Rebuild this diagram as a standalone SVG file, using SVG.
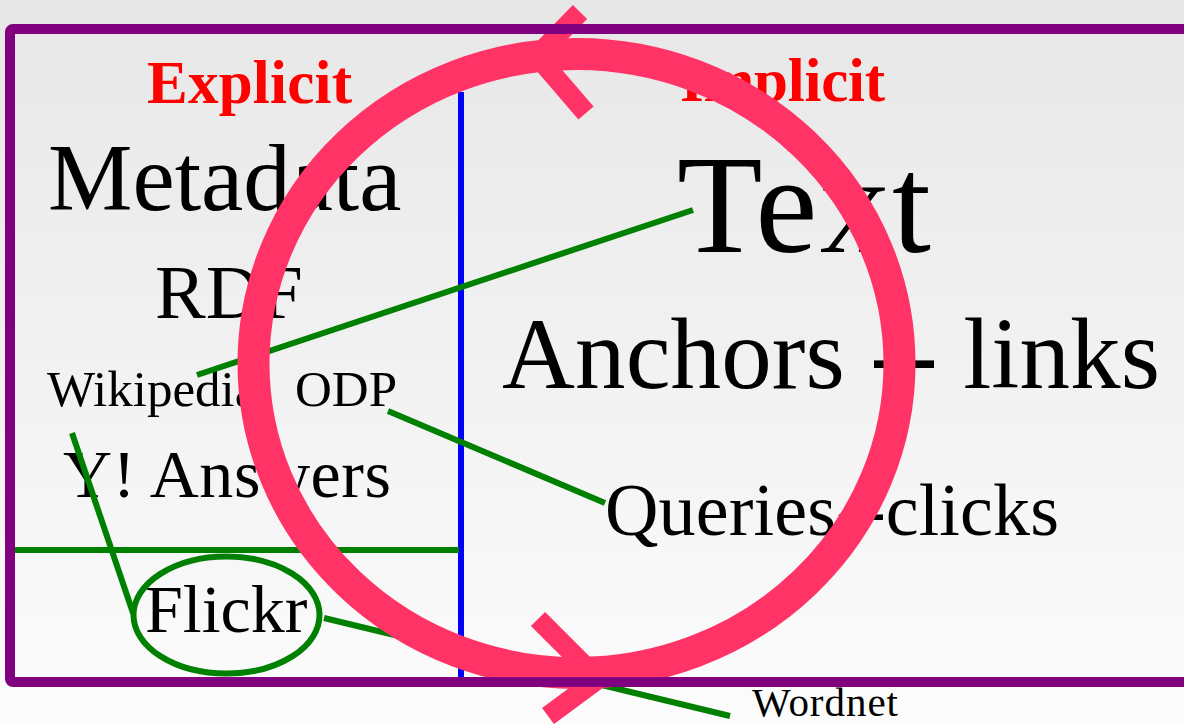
<svg xmlns="http://www.w3.org/2000/svg" width="1184" height="724" viewBox="0 0 1184 724">
  <defs>
    <linearGradient id="bg" x1="0" y1="0" x2="0" y2="1">
      <stop offset="0" stop-color="#e7e7e7"/>
      <stop offset="1" stop-color="#fcfcfc"/>
    </linearGradient>
  </defs>
  <style>
    text { font-family: "Liberation Serif", "Times New Roman", serif; fill: #000; }
    .head { font-weight: bold; fill: #ff0000; font-size: 61px; }
    .green { stroke: #008000; stroke-width: 6; fill: none; }
    .pink { stroke: #ff3366; fill: none; }
  </style>
  <rect x="0" y="0" width="1184" height="724" fill="url(#bg)"/>

  <g id="divider-vertical">
    <line x1="461" y1="92" x2="461" y2="680" stroke="#0000ff" stroke-width="6"/>
  </g>
  <g id="divider-horizontal">
    <line x1="15" y1="550" x2="459" y2="550" class="green"/>
  </g>

  <g id="label-explicit"><text class="head" x="147" y="103" textLength="205">Explicit</text></g>
  <g id="label-implicit"><text class="head" x="680" y="101" textLength="205">Implicit</text></g>
  <g id="node-metadata"><text x="48" y="210" font-size="95">Metadata</text></g>
  <g id="node-rdf"><text x="155" y="318" font-size="76">RDF</text></g>
  <g id="node-wikipedia"><text x="47" y="406" font-size="51">Wikipedia</text></g>
  <g id="node-odp"><text x="295" y="406" font-size="51">ODP</text></g>
  <g id="node-answers"><text x="63" y="497" font-size="68" textLength="328">Y! Answers</text></g>
  <g id="node-flickr">
    <text x="145" y="632" font-size="68">Flickr</text>
    <ellipse cx="226.5" cy="615" rx="93" ry="58.5" class="green" stroke-width="7"/>
  </g>
  <g id="node-text"><text x="677" y="252" font-size="140" textLength="254">Text</text></g>
  <g id="node-anchors"><text x="502" y="388" font-size="101" textLength="658">Anchors -- links</text></g>
  <g id="node-queries"><text x="605" y="535" font-size="74" textLength="454">Queries--clicks</text></g>
  <g id="node-wordnet"><text x="752" y="716" font-size="41" textLength="146">Wordnet</text></g>

  <g id="connectors">
    <line x1="197" y1="375" x2="693" y2="210" class="green"/>
    <line x1="388" y1="411" x2="605" y2="503" class="green"/>
    <line x1="72" y1="433" x2="133" y2="613" class="green"/>
    <line x1="324" y1="618" x2="730" y2="716" class="green"/>
  </g>

  <g id="cycle">
    <ellipse cx="576.5" cy="363.5" rx="323" ry="309.5" class="pink" stroke-width="32"/>
    <polyline points="580,12 537,56 586,113" class="pink" stroke-width="20"/>
    <polyline points="538,619 598,679 548,716" class="pink" stroke-width="20"/>
  </g>

  <g id="frame">
    <rect x="10" y="29" width="1200" height="653" rx="3" fill="none" stroke="#800080" stroke-width="10"/>
  </g>
</svg>
